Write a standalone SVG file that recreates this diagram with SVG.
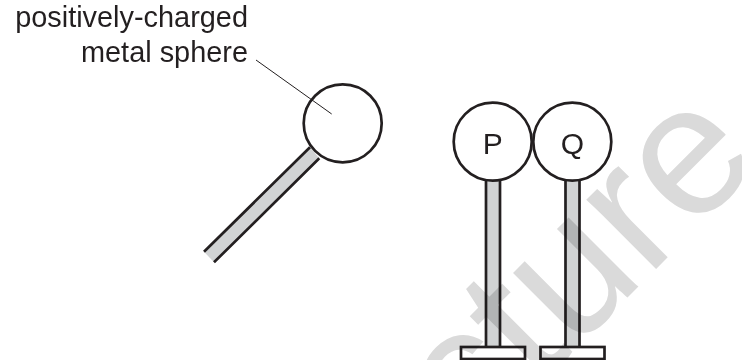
<svg xmlns="http://www.w3.org/2000/svg" width="742" height="360" viewBox="0 0 742 360">
<style>
text{font-family:"Liberation Sans",Arial,sans-serif;fill:#231f20}
.lbl{font-size:28.9px;text-anchor:end}
.sym{font-size:30px;text-anchor:middle}
.ball{fill:#fff;stroke:#231f20;stroke-width:2.7}
.rod{fill:#d1d3d4;stroke:none}
.edge{fill:none;stroke:#231f20;stroke-width:2.7}
.base{fill:#fff;stroke:#231f20;stroke-width:2.7}
.lead{fill:none;stroke:#231f20;stroke-width:1}
.wm{font-size:186px;text-anchor:end;fill:#dadada;mix-blend-mode:multiply}
</style>
<rect width="742" height="360" fill="#fff"/>
<g id="sphere">
<polygon class="rod" points="204,251.7 310,147.3 319.3,158.3 214,262.3"/>
<path class="edge" d="M204,251.7L310,147.3M214,262.3L319.3,158.3"/>
<circle class="ball" cx="342.7" cy="123.3" r="39"/>
</g>
<g id="P">
<rect class="rod" x="486" y="175" width="14" height="172"/>
<path class="edge" d="M486,175V347M500,175V347"/>
<rect class="base" x="461" y="347" width="64" height="12"/>
<circle class="ball" cx="492.7" cy="141.7" r="39"/>
<text class="sym" x="492.7" y="154">P</text>
</g>
<g id="Q">
<rect class="rod" x="565.5" y="175" width="14" height="172"/>
<path class="edge" d="M565.5,175V347M579.5,175V347"/>
<rect class="base" x="540.5" y="347" width="64" height="12"/>
<circle class="ball" cx="572.3" cy="141.7" r="39"/>
<text class="sym" x="572.3" y="154">Q</text>
</g>
<g id="connectors">
<line class="lead" x1="256" y1="60" x2="331.7" y2="114"/>
</g>
<g id="label">
<text class="lbl" x="248" y="27">positively-charged</text>
<text class="lbl" x="248" y="62">metal sphere</text>
</g>
<text class="wm" transform="translate(764,161) rotate(-45)">cture</text>
</svg>
